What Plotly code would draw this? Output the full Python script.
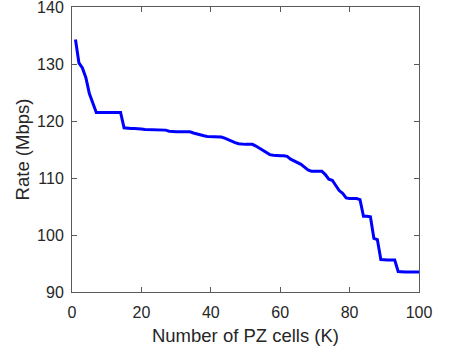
import plotly.graph_objects as go

# Number of PZ cells K = 1..100
num_pz_cells = list(range(1, 101))

# Achievable rate (Mbps) for each K
rate_mbps = [
    134.3, 130.2, 129.3, 127.6, 124.8, 123.2, 121.5, 121.5, 121.5, 121.5,   # 1-10
    121.5, 121.5, 121.5, 121.5, 118.8, 118.7, 118.7, 118.7, 118.7, 118.6,   # 11-20
    118.5, 118.5, 118.5, 118.5, 118.5, 118.5, 118.4, 118.2, 118.1, 118.1,   # 21-30
    118.1, 118.1, 118.1, 118.1, 117.9, 117.7, 117.5, 117.4, 117.3, 117.3,   # 31-40
    117.2, 117.2, 117.2, 117.0, 116.7, 116.4, 116.2, 116.0, 115.9, 115.9,   # 41-50
    115.9, 115.9, 115.6, 115.2, 114.9, 114.5, 114.1, 114.0, 113.9, 113.9,   # 51-60
    113.9, 113.8, 113.3, 113.0, 112.7, 112.4, 111.9, 111.4, 111.2, 111.2,   # 61-70
    111.2, 111.2, 110.6, 109.8, 109.6, 108.8, 107.8, 107.3, 106.5, 106.4,   # 71-80
    106.4, 106.4, 106.2, 103.3, 103.3, 103.2, 99.4, 99.2, 95.7, 95.6,       # 81-90
    95.6, 95.6, 95.6, 93.6, 93.5, 93.5, 93.5, 93.5, 93.5, 93.5,             # 91-100
]

x_ticks = [0, 20, 40, 60, 80, 100]
y_ticks = [90, 100, 110, 120, 130, 140]

axis_color = "#5a5a5a"
text_color = "#262626"
font_family = "Liberation Sans, Arial, Helvetica, sans-serif"

fig = go.Figure()
fig.add_trace(go.Scatter(
    x=num_pz_cells,
    y=rate_mbps,
    mode="lines",
    line=dict(color="#0000ff", width=3),
    showlegend=False,
))

common_axis = dict(
    showline=True,
    linecolor=axis_color,
    linewidth=1,
    mirror="ticks",
    ticks="inside",
    ticklen=5,
    tickwidth=1,
    tickcolor=axis_color,
    showgrid=False,
    zeroline=False,
    ticklabeloverflow="allow",
    tickfont=dict(family=font_family, size=16, color=text_color),
)

fig.update_xaxes(
    range=[0, 100],
    tickvals=x_ticks,
    ticktext=[str(v) for v in x_ticks],
    title=dict(text="Number of PZ cells (K)",
               font=dict(family=font_family, size=18.5, color=text_color),
               standoff=8),
    ticklabelstandoff=6,
    **common_axis,
)
fig.update_yaxes(
    range=[90, 140],
    tickvals=y_ticks,
    ticktext=[str(v) for v in y_ticks],
    title=dict(text="Rate (Mbps)",
               font=dict(family=font_family, size=18.5, color=text_color),
               standoff=2),
    ticklabelstandoff=4,
    **common_axis,
)

fig.update_layout(
    width=455,
    height=358,
    margin=dict(l=72, r=36, t=7, b=66, autoexpand=False),
    paper_bgcolor="white",
    plot_bgcolor="white",
)

fig.write_html("out.html")
